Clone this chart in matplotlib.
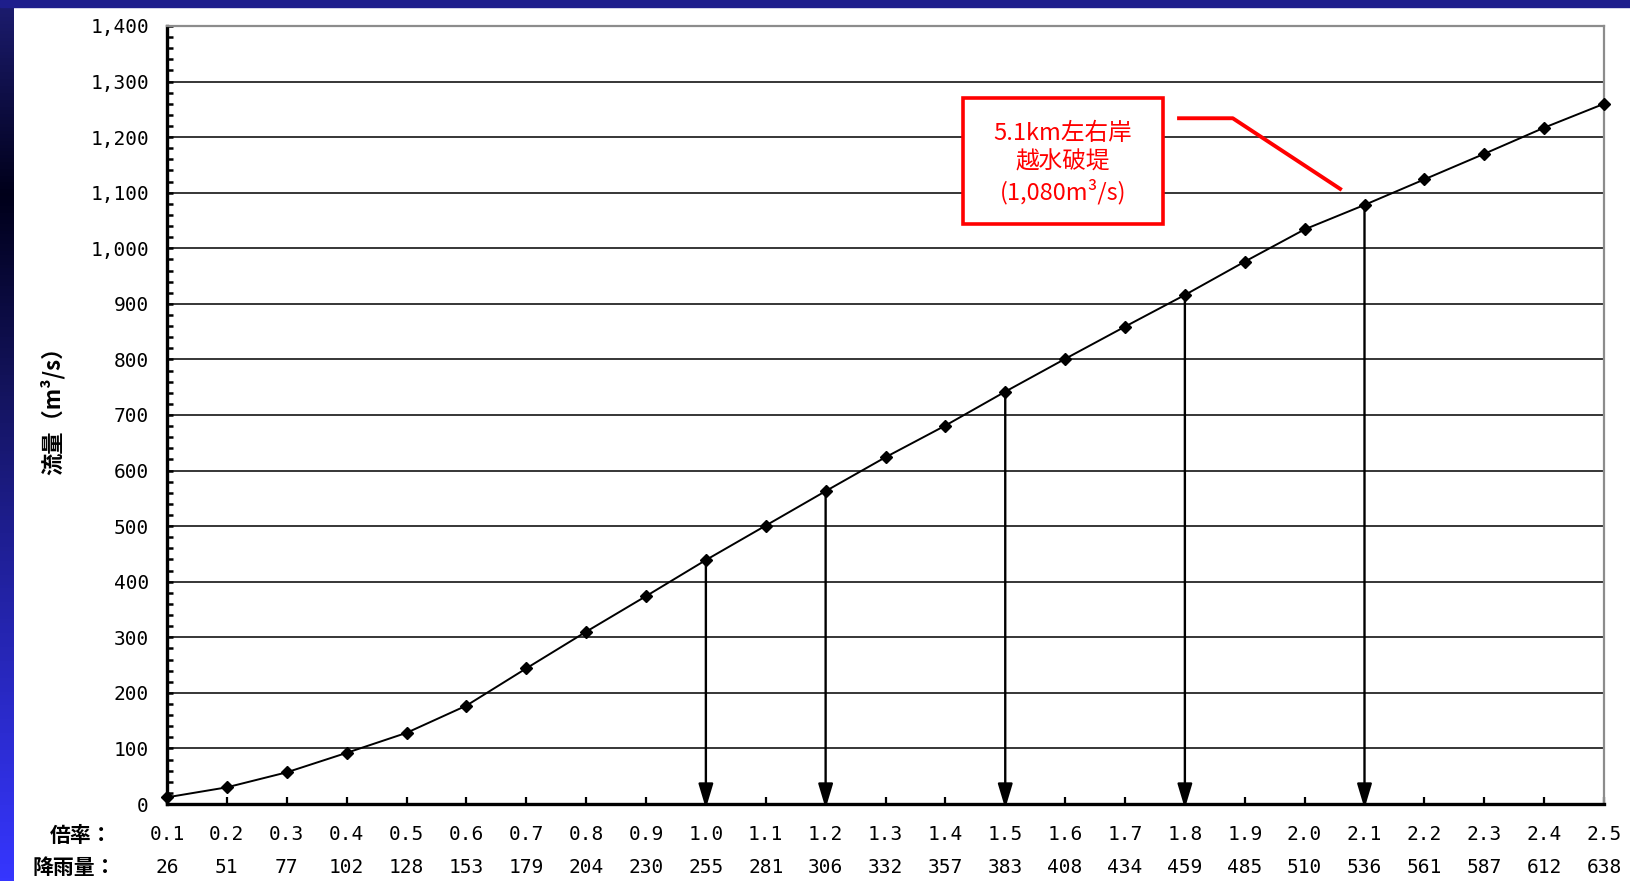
import matplotlib
matplotlib.use("Agg")
import matplotlib.pyplot as plt
import numpy as np
from matplotlib.patches import Rectangle
from matplotlib.ticker import MultipleLocator
from matplotlib.colors import LinearSegmentedColormap

plt.rcParams['font.family'] = ['Noto Sans CJK JP', 'DejaVu Sans']

# data
multiplier = [0.1, 0.2, 0.3, 0.4, 0.5, 0.6, 0.7, 0.8, 0.9, 1.0, 1.1, 1.2, 1.3,
              1.4, 1.5, 1.6, 1.7, 1.8, 1.9, 2.0, 2.1, 2.2, 2.3, 2.4, 2.5]
rainfall = [26, 51, 77, 102, 128, 153, 179, 204, 230, 255, 281, 306, 332,
            357, 383, 408, 434, 459, 485, 510, 536, 561, 587, 612, 638]
flow = [12, 30, 57, 92, 128, 177, 244, 310, 374, 439, 501, 563, 624,
        681, 742, 801, 859, 916, 976, 1034, 1078, 1124, 1170, 1217, 1260]
arrow_at = [1.0, 1.2, 1.5, 1.8, 2.1]

note_text = "5.1km左右岸\n越水破堤\n(1,080m³/s)"
note_box = (1.429, 1044, 0.334, 226)     # x, y, width, height in data units
note_center = (1.596, 1153)
leader_x = [1.787, 1.880, 2.062]
leader_y = [1234, 1234, 1105]

mono = ['DejaVu Sans Mono', 'Noto Sans CJK JP']

fig = plt.figure(figsize=(16.3, 8.81), dpi=100)
fig.patch.set_facecolor('white')

# slide frame: gradient strip on the left, plain strip on top
strip = fig.add_axes([0, 0, 13 / 1630, 1])
cmap = LinearSegmentedColormap.from_list(
    'frame', [(0, '#1c1c70'), (0.22, '#00001a'), (0.45, '#141460'),
              (0.62, '#1f1f95'), (1.0, '#3636ff')])
strip.imshow(np.linspace(0, 1, 256).reshape(-1, 1), aspect='auto', cmap=cmap)
strip.axis('off')
fig.patches.append(Rectangle((0, 1 - 7 / 881), 1, 7 / 881, transform=fig.transFigure,
                             color='#1e1e8c', zorder=10))

ax = fig.add_axes([167 / 1630, 1 - 804 / 881, (1604 - 167) / 1630, (804 - 26) / 881])
ax.set_xlim(0.1, 2.5)
ax.set_ylim(0, 1400)

ax.yaxis.set_major_locator(MultipleLocator(100))
ax.yaxis.set_minor_locator(MultipleLocator(20))
ax.grid(axis='y', which='major', color='black', lw=1.1, zorder=1)
ax.set_axisbelow(True)

ax.plot(multiplier, flow, color='black', lw=1.4, marker='D', markersize=6.5,
        clip_on=False, zorder=5)

for m in arrow_at:
    y = flow[multiplier.index(m)]
    ax.annotate('', xy=(m, -8), xytext=(m, y),
                arrowprops=dict(arrowstyle='-|>,head_length=1.5,head_width=0.45',
                                color='black', lw=1.7, shrinkA=0, shrinkB=0,
                                mutation_scale=10),
                annotation_clip=False, zorder=4)

# annotation box
bx, by, bw, bh = note_box
ax.add_patch(Rectangle((bx, by), bw, bh, facecolor='white', edgecolor='#ff0000',
                       lw=2.6, zorder=6))
ax.text(note_center[0], note_center[1], note_text, color='#ff0000', fontsize=17,
        ha='center', va='center', multialignment='center', linespacing=1.3,
        zorder=7)
ax.plot(leader_x, leader_y, color='#ff0000', lw=2.8, solid_capstyle='butt', zorder=6)

# spines
for s in ['left', 'bottom']:
    ax.spines[s].set_color('black')
    ax.spines[s].set_linewidth(2.4)
for s in ['top', 'right']:
    ax.spines[s].set_color('#8c8c8c')
    ax.spines[s].set_linewidth(1.6)

ax.tick_params(axis='y', which='both', direction='in', length=4, width=1.8,
               pad=13, labelsize=14, colors='black')
ax.set_yticks(np.arange(0, 1401, 100))
ax.set_yticklabels([f"{v:,}" for v in range(0, 1401, 100)], family=mono)

ax.set_xticks(multiplier)
ax.set_xticklabels([f"{m:.1f}" for m in multiplier], family=mono)
ax.tick_params(axis='x', direction='in', length=5, width=1.6, pad=15,
               labelsize=14, colors='black')
for m, r in zip(multiplier, rainfall):
    ax.text(m, -0.081, str(r), transform=ax.get_xaxis_transform(), ha='center',
            va='center', fontsize=14, family=mono)

fig.text(112 / 1630, 1 - 835 / 881, "倍率：", ha='right', va='center',
         fontsize=15, weight='bold')
fig.text(116 / 1630, 1 - 868 / 881, "降雨量：", ha='right', va='center',
         fontsize=15, weight='bold')

ax.set_ylabel("流量（m³/s）", fontsize=16, weight='bold')
ax.yaxis.set_label_coords(-0.071, 0.513)

fig.savefig('out.png', dpi=100)
